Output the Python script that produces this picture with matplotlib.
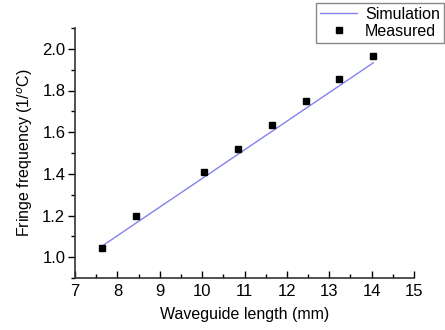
import matplotlib
matplotlib.use("Agg")
import matplotlib.pyplot as plt
from matplotlib.ticker import MultipleLocator

plt.rcParams['font.family'] = ['Liberation Sans', 'DejaVu Sans']

# measured points
length_meas = [7.645, 8.45, 10.04, 10.84, 11.64, 12.44, 13.24, 14.04]
freq_meas = [1.046, 1.198, 1.41, 1.52, 1.634, 1.748, 1.856, 1.965]

# simulation line
length_sim = [7.645, 8.45, 10.04, 10.84, 11.64, 12.44, 13.24, 14.04]
freq_sim = [1.054, 1.165, 1.383, 1.493, 1.603, 1.713, 1.823, 1.933]

fig = plt.figure(figsize=(4.45, 3.3), dpi=100)
ax = fig.add_axes([75 / 445, 1 - 278 / 330, (414 - 75) / 445, (278 - 28) / 330])

ax.plot(length_sim, freq_sim, color='#8282ee', lw=1.0, label='Simulation')
ax.plot(length_meas, freq_meas, 's', color='black', ms=4.5, label='Measured')

ax.set_xlim(7, 15)
ax.set_ylim(0.9, 2.1)
ax.xaxis.set_major_locator(MultipleLocator(1))
ax.xaxis.set_minor_locator(MultipleLocator(0.5))
ax.yaxis.set_minor_locator(MultipleLocator(0.1))
ax.set_yticks([1.0, 1.2, 1.4, 1.6, 1.8, 2.0])
ax.yaxis.set_major_formatter(plt.FormatStrFormatter('%.1f'))

for s in ['top', 'right']:
    ax.spines[s].set_visible(False)
for s in ['left', 'bottom']:
    ax.spines[s].set_linewidth(1.2)
    ax.spines[s].set_color('#333333')

ax.tick_params(axis='x', which='both', direction='in', labelsize=12, pad=4)
ax.tick_params(axis='x', which='major', length=5, width=1)
ax.tick_params(axis='x', which='minor', length=3, width=1)
ax.tick_params(axis='y', which='both', direction='out', labelsize=12, pad=2)
ax.tick_params(axis='y', which='major', length=5, width=1)
ax.tick_params(axis='y', which='minor', length=3, width=1)

ax.set_xlabel('Waveguide length (mm)', fontsize=11.5, labelpad=6)
ax.set_ylabel('Fringe frequency (1/$^o$C)', fontsize=11.5, labelpad=5)

leg = fig.legend(loc='upper right', bbox_to_anchor=(444 / 445, 1 - 3 / 330),
                 borderaxespad=0, fontsize=11.5, fancybox=False, framealpha=1,
                 handlelength=2.3, handletextpad=0.5, borderpad=0.25,
                 labelspacing=0.1, markerscale=0.9)
leg.get_frame().set_edgecolor('#888888')
leg.get_frame().set_linewidth(1.0)

fig.savefig('out.png', dpi=100)
